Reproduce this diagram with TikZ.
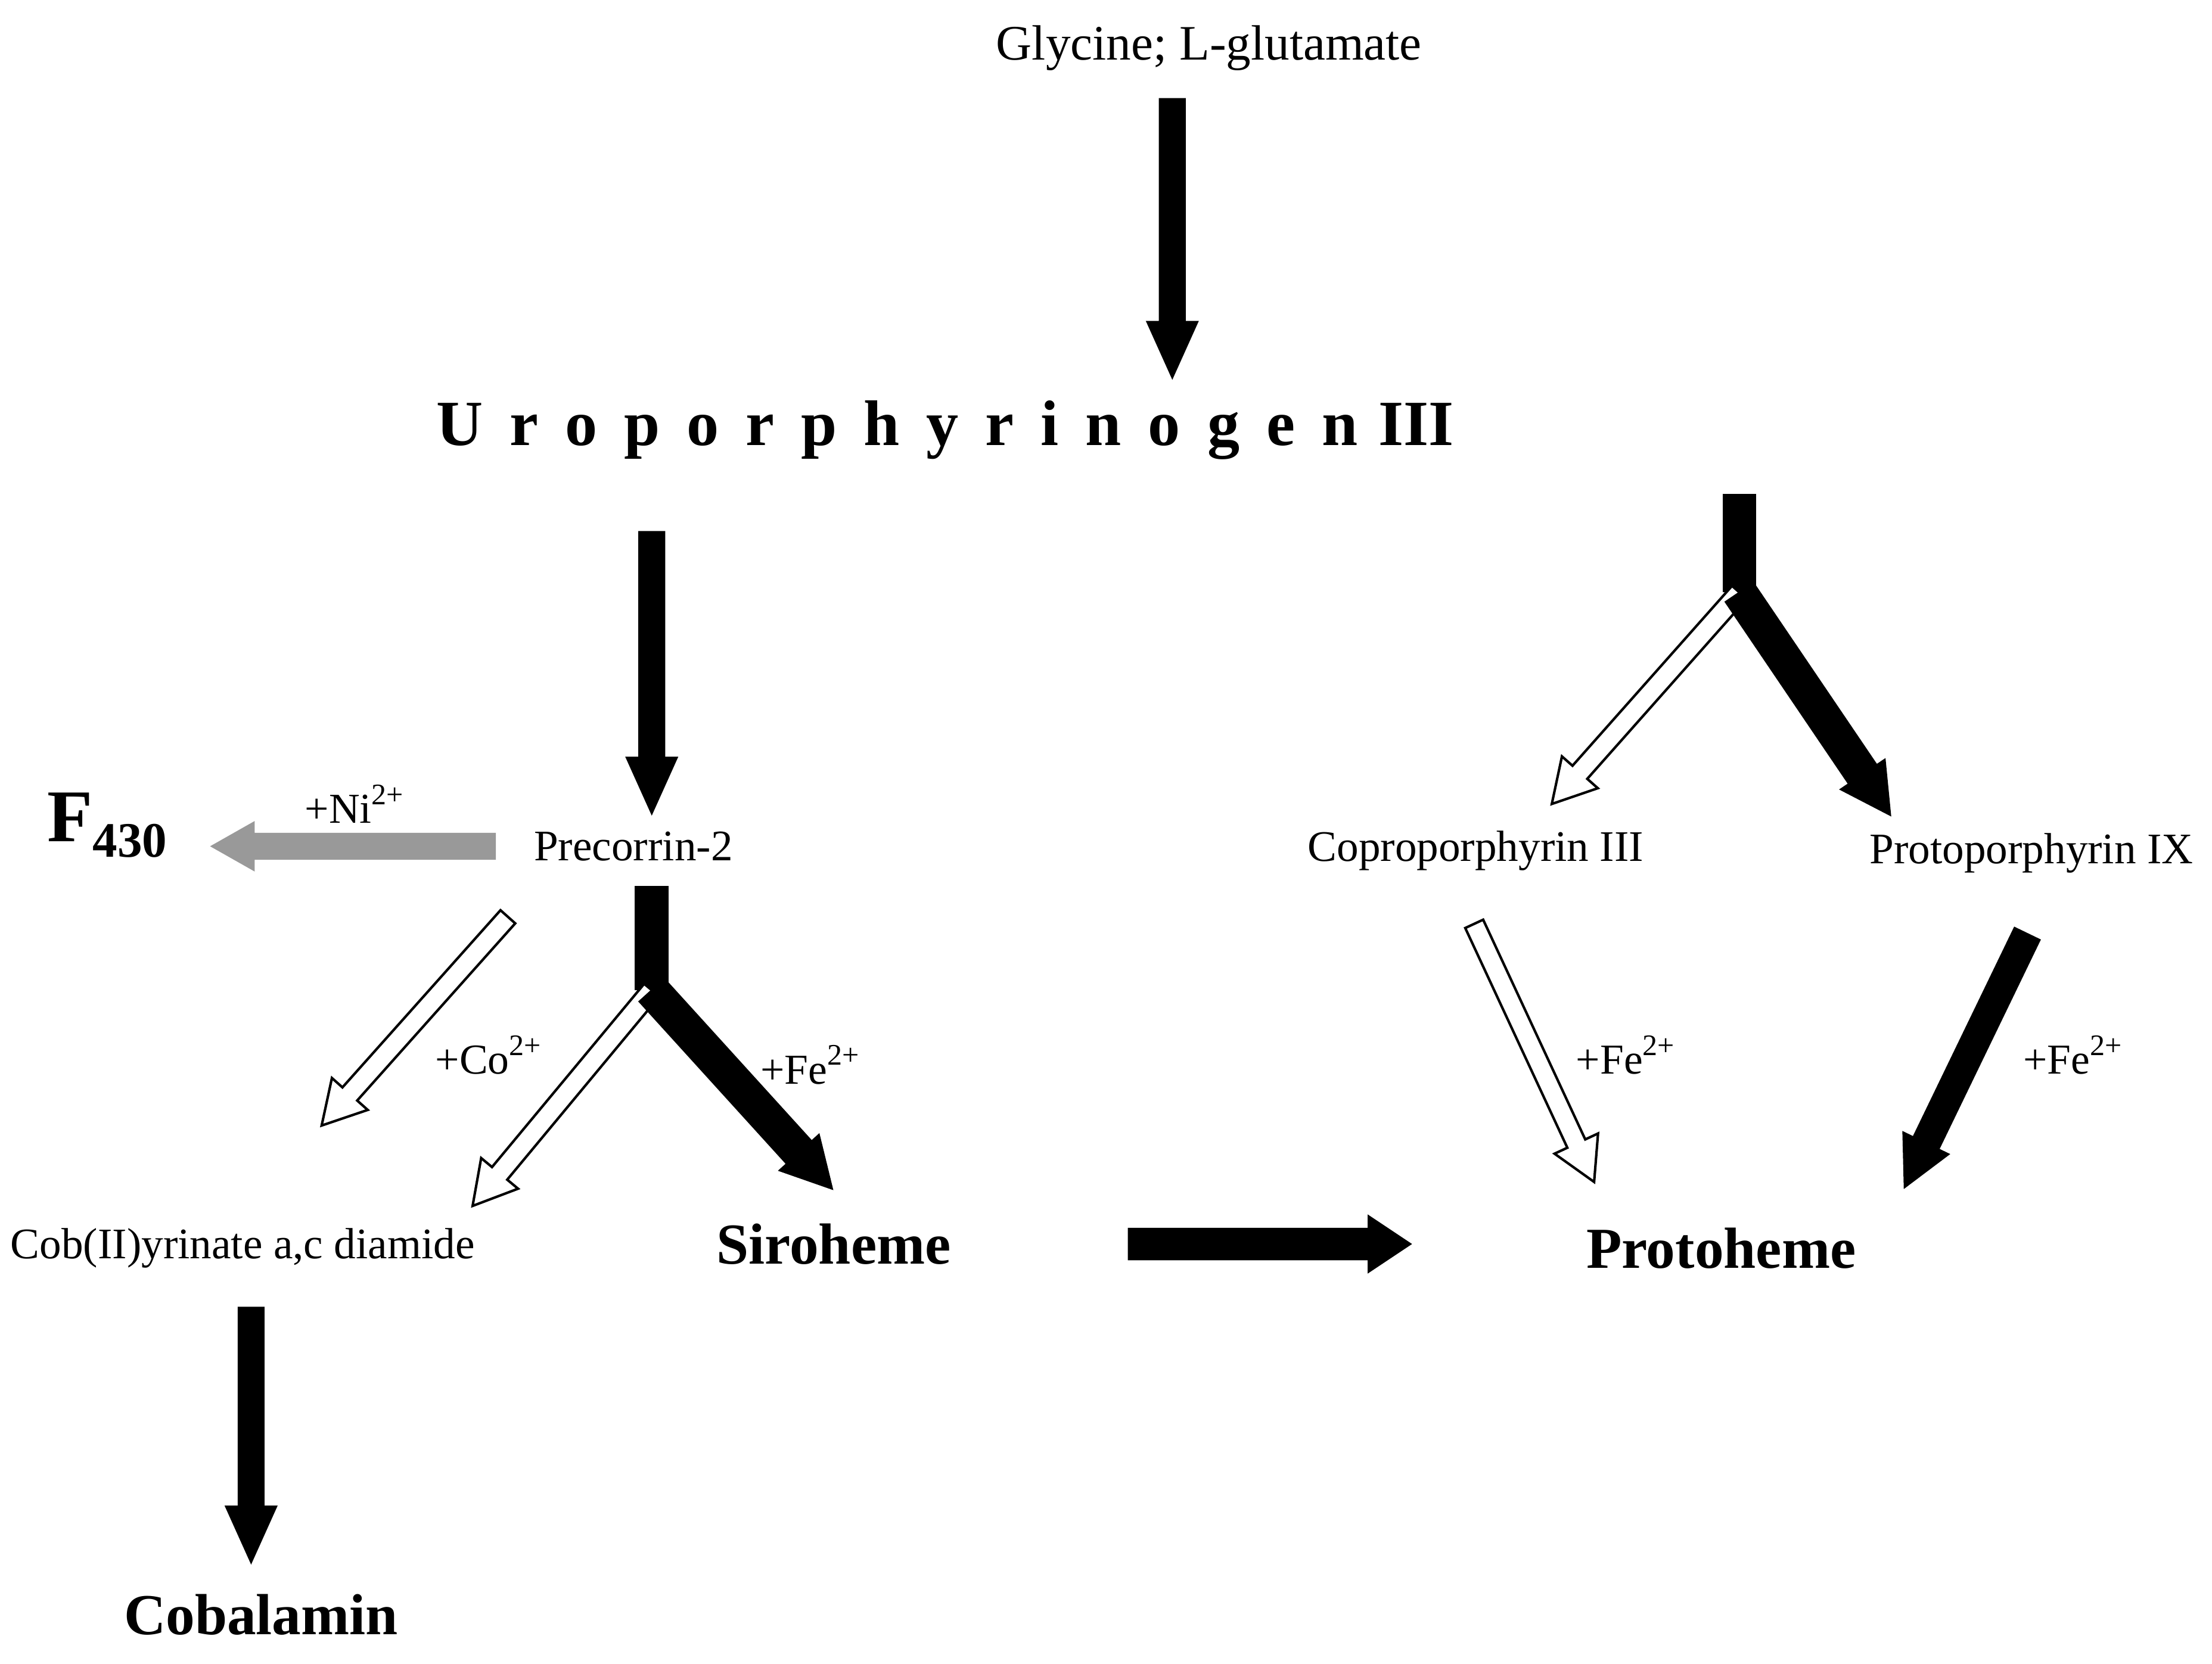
\documentclass[tikz,border=0pt]{standalone}
\usepackage{fontspec}
\setmainfont{Liberation Serif}
\usetikzlibrary{calc}
\tikzset{lbl/.style={inner sep=0pt,font=\fontsize{8.8}{11}\selectfont},
 big/.style={inner sep=0pt,font=\fontsize{11.7}{14}\selectfont\bfseries},
 ion/.style={inner sep=0pt,font=\fontsize{8.6}{11}\selectfont},
 blk/.style={fill=black,draw=black,line width=0.3pt},
 hol/.style={fill=white,draw=black,line width=0.5pt},
 gry/.style={fill=black!40,draw=black!40,line width=0.3pt}}
% #1 style, #2 start, #3 end, #4 half shaft, #5 half head, #6 head length
\newcommand\barrow[6]{%
 \path[#1] ($(#2)!#4!90:(#3)$) -- ($($(#3)!#6!(#2)$)!#4!-90:(#2)$)
 -- ($($(#3)!#6!(#2)$)!#5!-90:(#2)$) -- (#3)
 -- ($($(#3)!#6!(#2)$)!#5!90:(#2)$) -- ($($(#3)!#6!(#2)$)!#4!90:(#2)$)
 -- ($(#2)!#4!-90:(#3)$) -- cycle;}
\begin{document}
\begin{tikzpicture}[x=1mm,y=-1mm]
\useasboundingbox (0,0) rectangle (156.8,117.94);
\node[lbl,font=\fontsize{10}{12}\selectfont] (gly) at (85.7,3.4) {Glycine; L-glutamate};
\node[big,font=\fontsize{13}{16}\selectfont\bfseries] (uro) at (67,30.5) {U\hspace{1.9mm}r\hspace{1.9mm}o\hspace{1.9mm}p\hspace{1.9mm}o\hspace{1.9mm}r\hspace{1.9mm}p\hspace{1.9mm}h\hspace{1.9mm}y\hspace{1.9mm}r\hspace{1.9mm}i\hspace{1.9mm}n\hspace{1.9mm}o\hspace{1.9mm}g\hspace{1.9mm}e\hspace{1.9mm}n\hspace{1.5mm}III};
\node[lbl] (pre) at (44.9,60) {Precorrin-2};
\node[lbl] (copro) at (104.6,60.3) {Coproporphyrin III};
\node[lbl] (protoix) at (144,60.5) {Protoporphyrin IX};
\node[lbl] (cob) at (17.2,88.5) {Cob(II)yrinate a,c diamide};
\node[big] (siro) at (59.1,88.2) {Siroheme};
\node[big] (proto) at (122,88.5) {Protoheme};
\node[big] (cobal) at (18.5,114.5) {Cobalamin};
\node[inner sep=0pt,font=\fontsize{15}{18}\selectfont\bfseries] (f430) at (7.6,58.5) {F\raisebox{-0.45ex}{\fontsize{10}{12}\selectfont 430}};
\node[ion] (ni) at (25.2,57) {+Ni\textsuperscript{2+}};
\node[ion] (co) at (34.7,74.8) {+Co\textsuperscript{2+}};
\node[ion] (fe1) at (57.5,75.5) {+Fe\textsuperscript{2+}};
\node[ion] (fe2) at (115.3,74.8) {+Fe\textsuperscript{2+}};
\node[ion] (fe3) at (147,74.8) {+Fe\textsuperscript{2+}};
% coordinates
\coordinate (a1) at (83.1,7); \coordinate (b1) at (83.1,26.8);
\coordinate (a2) at (46.2,37.7); \coordinate (b2) at (46.2,57.7);
\coordinate (a3) at (35.1,60); \coordinate (b3) at (15,60);
\coordinate (a4) at (36,65); \coordinate (b4) at (22.8,79.8);
\coordinate (s1) at (46.2,62.8); \coordinate (j1) at (46.2,70.2);
\coordinate (b5) at (59,84.3); \coordinate (b6) at (33.5,85.5);
\coordinate (s2) at (123.3,35); \coordinate (j2) at (123.3,42);
\coordinate (b7) at (110,57); \coordinate (b8) at (134,57.8);
\coordinate (a9) at (104.5,65.5); \coordinate (b9) at (113,83.8);
\coordinate (a10) at (143.7,66.2); \coordinate (b10) at (135,84.2);
\coordinate (a11) at (80,88.2); \coordinate (b11) at (100,88.2);
\coordinate (a12) at (17.8,92.7); \coordinate (b12) at (17.8,110.8);
\barrow{blk}{a1}{b1}{0.9mm}{1.8mm}{4mm}
\barrow{blk}{a2}{b2}{0.9mm}{1.8mm}{4mm}
\barrow{gry}{a3}{b3}{0.9mm}{1.7mm}{3mm}
\barrow{hol}{a4}{b4}{0.7mm}{1.7mm}{3mm}
\fill[black] ($(s1)+(-1.2,0)$) rectangle ($(j1)+(1.2,0)$);
\barrow{hol}{j1}{b6}{0.7mm}{1.7mm}{3mm}
\barrow{blk}{j1}{b5}{1.2mm}{1.9mm}{3.5mm}
\fill[black] ($(s2)+(-1.2,0)$) rectangle ($(j2)+(1.2,0)$);
\barrow{hol}{j2}{b7}{0.7mm}{1.7mm}{3mm}
\barrow{blk}{j2}{b8}{1.2mm}{1.9mm}{3.5mm}
\barrow{hol}{a9}{b9}{0.7mm}{1.7mm}{3mm}
\barrow{blk}{a10}{b10}{1.0mm}{1.8mm}{3.5mm}
\barrow{blk}{a11}{b11}{1.1mm}{2mm}{3mm}
\barrow{blk}{a12}{b12}{0.9mm}{1.8mm}{4mm}
\end{tikzpicture}
\end{document}
